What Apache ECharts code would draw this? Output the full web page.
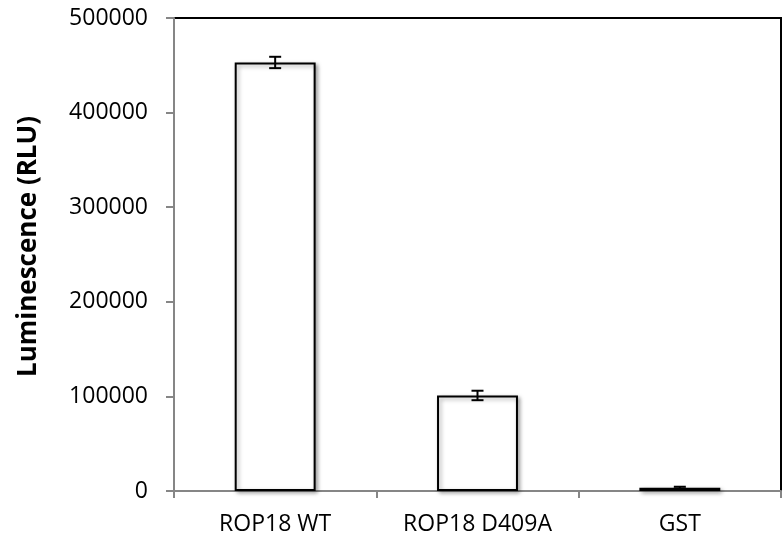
<!DOCTYPE html>
<html>
<head>
<meta charset="utf-8">
<script src="https://cdn.jsdelivr.net/npm/echarts@6/dist/echarts.min.js"></script>
<style>
  html, body { margin: 0; padding: 0; background: #fff; }
  #chart { width: 783px; height: 542px; }
</style>
</head>
<body>
<div id="chart"></div>
<script>
const categories = ['ROP18 WT', 'ROP18 D409A', 'GST']
const values = [453000, 101000, 3500]
const errors = [6000, 5000, 1000]

const chart = echarts.init(document.getElementById('chart'))
const font = '"Open Sans", Lato, sans-serif'

chart.setOption({
  animation: false,
  grid: {
    left: 174,
    right: 2,
    top: 18,
    bottom: 51,
    show: true,
    borderColor: '#000',
    borderWidth: 2,
    backgroundColor: 'transparent',
  },
  xAxis: {
    type: 'category',
    data: categories,
    axisLine: { lineStyle: { color: '#868686', width: 2 } },
    axisTick: { show: true, length: 7, lineStyle: { color: '#868686', width: 2 } },
    axisLabel: { color: '#000', fontSize: 23, fontFamily: font, margin: 22 },
  },
  yAxis: {
    type: 'value',
    min: 0,
    max: 500000,
    interval: 100000,
    name: 'Luminescence (RLU)',
    nameLocation: 'middle',
    nameGap: 132,
    nameTextStyle: {
      color: '#000',
      fontSize: 26,
      fontWeight: 'bold',
      fontFamily: font,
      padding: [0, 0, 0, 16],
    },
    axisLine: { show: true, lineStyle: { color: '#868686', width: 2 } },
    axisTick: { show: true, length: 8, lineStyle: { color: '#868686', width: 2 } },
    axisLabel: {
      color: '#000',
      fontSize: 23,
      fontFamily: font,
      margin: 26,
      formatter: (v) => String(v),
    },
    splitLine: { show: false },
  },
  series: [
    {
      type: 'bar',
      data: values,
      barWidth: '40%',
      itemStyle: {
        color: '#fff',
        borderColor: '#000',
        borderWidth: 2,
        shadowBlur: 4,
        shadowColor: 'rgba(0,0,0,0.35)',
        shadowOffsetX: 2,
        shadowOffsetY: 2,
      },
    },
    {
      type: 'custom',
      data: values.map((v, i) => [i, v - errors[i], v + errors[i]]),
      renderItem(params, api) {
        const lo = api.coord([api.value(0), api.value(1)])
        const hi = api.coord([api.value(0), api.value(2)])
        const x = lo[0]
        const w = 6
        const style = { stroke: '#000', lineWidth: 2 }
        return {
          type: 'group',
          children: [
            { type: 'line', shape: { x1: x, y1: lo[1], x2: x, y2: hi[1] }, style },
            { type: 'line', shape: { x1: x - w, y1: lo[1], x2: x + w, y2: lo[1] }, style },
            { type: 'line', shape: { x1: x - w, y1: hi[1], x2: x + w, y2: hi[1] }, style },
          ],
        }
      },
      z: 5,
    },
  ],
})
</script>
</body>
</html>
